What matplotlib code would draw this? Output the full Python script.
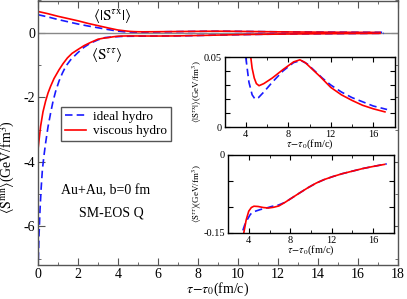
import numpy as np
import matplotlib
matplotlib.use("Agg")
import matplotlib.pyplot as plt
from matplotlib.ticker import MultipleLocator, FixedLocator

plt.rcParams['font.family'] = ['Liberation Serif', 'DejaVu Serif']
plt.rcParams['mathtext.fontset'] = 'stix'
plt.rcParams['axes.unicode_minus'] = False

# <|S^tau x|>  (GeV/fm^3)
tau_tx_ideal = [0, 0.5, 1.0, 1.5, 2.0, 2.5, 3.0, 3.5, 4.0, 4.3, 4.6, 4.87, 5.2, 5.7,
                6.5, 7.5, 8.5, 9.2, 9.8, 10.5, 11.2, 12, 13, 14, 15, 16, 17.3]
stx_ideal = [0.56, 0.49, 0.41, 0.34, 0.27, 0.21, 0.155, 0.10, 0.05, 0.032, 0.023, 0.020,
             0.021, 0.025, 0.032, 0.040, 0.046, 0.0475, 0.045, 0.040, 0.035, 0.030,
             0.025, 0.021, 0.018, 0.015, 0.0125]
tau_tx_visc = [0, 0.5, 1.0, 1.5, 2.0, 2.5, 3.0, 3.5, 4.0, 4.47, 4.6, 4.8, 5.0, 5.25, 5.7,
               6.5, 7.5, 8.5, 9.1, 9.6, 10.3, 11, 12, 13, 14, 15, 16, 17.1]
stx_visc = [0.66, 0.59, 0.51, 0.44, 0.37, 0.29, 0.22, 0.15, 0.085, 0.05, 0.042, 0.035,
            0.031, 0.0295, 0.031, 0.035, 0.041, 0.0465, 0.048, 0.046, 0.041, 0.036,
            0.0283, 0.023, 0.019, 0.0155, 0.013, 0.0108]

# <S^tau tau>  (GeV/fm^3)
tau_tt_ideal = [0, 0.05, 0.1, 0.16, 0.22, 0.3, 0.38, 0.5, 0.63, 0.75, 0.88, 1.05, 1.22,
                1.4, 1.63, 1.97, 2.3, 2.63, 3.0, 3.35, 3.6, 3.84, 4.16, 4.5, 5.1, 5.7,
                6.2, 6.9, 7.5, 8.2, 8.9, 9.7, 10.5, 11.3, 12.1, 13, 14, 15, 16, 17.3]
stt_ideal = [-7.4, -6.3, -5.5, -4.8, -4.24, -3.8, -3.42, -2.92, -2.49, -2.13, -1.82, -1.5,
             -1.25, -1.03, -0.84, -0.63, -0.45, -0.32, -0.22, -0.15, -0.135, -0.125,
             -0.114, -0.109, -0.105, -0.102, -0.099, -0.096, -0.091, -0.082, -0.073,
             -0.063, -0.054, -0.047, -0.0415, -0.036, -0.031, -0.026, -0.022, -0.017]
tau_tt_visc = [0, 0.13, 0.25, 0.38, 0.5, 0.63, 0.8, 1.05, 1.25, 1.47, 1.7, 1.97, 2.3,
               2.63, 3.0, 3.3, 3.52, 3.75, 4.0, 4.25, 4.5, 4.9, 5.4, 5.9, 6.4, 6.9, 7.5,
               8.2, 8.9, 9.7, 10.5, 11.3, 12.1, 13, 14, 15, 16, 17.1]
stt_visc = [-3.62, -2.9, -2.45, -2.12, -1.87, -1.66, -1.42, -1.15, -0.96, -0.78, -0.64,
            -0.53, -0.40, -0.30, -0.20, -0.165, -0.15, -0.125, -0.108, -0.101, -0.0985,
            -0.099, -0.101, -0.102, -0.1005, -0.098, -0.091, -0.082, -0.073, -0.063,
            -0.054, -0.047, -0.0415, -0.036, -0.031, -0.026, -0.022, -0.018]

BLUE = '#1a1aff'
RED = '#ff0000'
DASH = (0, (4.5, 2.5))


def style_axes(ax, color, major, minor, fs):
    for sp in ax.spines.values():
        sp.set_color(color)
        sp.set_linewidth(1.0)
    ax.tick_params(which='both', direction='in', top=True, right=True,
                   color=color, labelsize=fs, pad=2)
    ax.tick_params(which='major', length=major)
    ax.tick_params(which='minor', length=minor)


fig = plt.figure(figsize=(4.07, 2.99), dpi=100)

# main panel
ax = fig.add_axes([38 / 407, 34 / 299, 360 / 407, 264.5 / 299])
ax.axhline(0, color='#888888', lw=1.0)
ax.plot(tau_tx_ideal, stx_ideal, color=BLUE, ls=DASH, lw=1.2, label='ideal hydro')
ax.plot(tau_tx_visc, stx_visc, color=RED, lw=1.2, label='viscous hydro')
ax.plot(tau_tt_ideal, stt_ideal, color=BLUE, ls=DASH, lw=1.2)
ax.plot(tau_tt_visc, stt_visc, color=RED, lw=1.2)
ax.set_xlim(0, 18)
ax.set_ylim(-7.2, 1.0)
ax.xaxis.set_major_locator(MultipleLocator(2))
ax.xaxis.set_minor_locator(MultipleLocator(1))
ax.yaxis.set_major_locator(FixedLocator([-6, -4, -2, 0]))
ax.yaxis.set_minor_locator(MultipleLocator(1))
style_axes(ax, '#555555', 5, 2.5, 10)
ax.set_xlabel(r'$\tau\!-\!\tau_0$(fm/c)', fontsize=10, labelpad=0)
ax.set_ylabel(r'$\langle\mathrm{S^{mn}}\rangle$(GeV/fm$^3$)', fontsize=10)
ax.yaxis.set_label_coords(-0.058, 0.37)

ax.text(3.72, 0.52, r'$\langle|\mathrm{S}^{\tau\mathrm{x}}|\rangle$', fontsize=11,
        ha='center', va='center')
ax.text(3.43, -0.70, r'$\langle\mathrm{S}^{\tau\tau}\rangle$', fontsize=11,
        ha='center', va='center')
ax.text(3.4, -4.91, 'Au+Au, b=0 fm', fontsize=10, ha='center', va='center')
ax.text(3.65, -5.58, 'SM-EOS Q', fontsize=10, ha='center', va='center')

leg = ax.legend(loc='upper left', bbox_to_anchor=(0.064, 0.598), fontsize=9.5,
                handlelength=1.6, handletextpad=0.5, borderpad=0.3,
                borderaxespad=0, labelspacing=0.15, fancybox=False, framealpha=1)
leg.get_frame().set_edgecolor('#555555')
leg.get_frame().set_linewidth(1.0)

# inset: |S^tau x|
ax1 = fig.add_axes([224.5 / 407, 172 / 299, 170 / 407, 70 / 299])
ax1.plot(tau_tx_ideal, stx_ideal, color=BLUE, ls=DASH, lw=1.2)
ax1.plot(tau_tx_visc, stx_visc, color=RED, lw=1.2)
ax1.set_xlim(2, 18)
ax1.set_ylim(0, 0.05)
ax1.xaxis.set_major_locator(MultipleLocator(4))
ax1.xaxis.set_minor_locator(MultipleLocator(2))
ax1.yaxis.set_major_locator(FixedLocator([0, 0.01, 0.02, 0.03, 0.04, 0.05]))
ax1.set_yticklabels(['0', '', '', '', '', '0.05'])
style_axes(ax1, 'black', 3.5, 2, 7.5)
ax1.set_xlabel(r'$\tau\!-\!\tau_0$(fm/c)', fontsize=7.5, labelpad=-1)
ax1.set_ylabel(r'$\langle|\mathrm{S}^{\tau\mathrm{x}}|\rangle$(GeV/fm$^3$)',
               fontsize=6.5, labelpad=0)

# inset: S^tau tau
ax2 = fig.add_axes([228 / 407, 66 / 299, 166 / 407, 78 / 299])
ax2.plot(tau_tt_ideal, stt_ideal, color=BLUE, ls=DASH, lw=1.2)
ax2.plot(tau_tt_visc, stt_visc, color=RED, lw=1.2)
ax2.set_xlim(2, 18)
ax2.set_ylim(-0.15, 0)
ax2.xaxis.set_major_locator(MultipleLocator(4))
ax2.xaxis.set_minor_locator(MultipleLocator(2))
ax2.yaxis.set_major_locator(FixedLocator([-0.15, -0.1, -0.05, 0]))
ax2.set_yticklabels(['-0.15', '', '', '0'])
style_axes(ax2, 'black', 3.5, 2, 7.5)
ax2.set_xlabel(r'$\tau\!-\!\tau_0$(fm/c)', fontsize=7.5, labelpad=-1)
ax2.set_ylabel(r'$\langle\mathrm{S}^{\tau\tau}\rangle$(GeV/fm$^3$)',
               fontsize=6.5, labelpad=0)

fig.savefig('out.png', dpi=100)
